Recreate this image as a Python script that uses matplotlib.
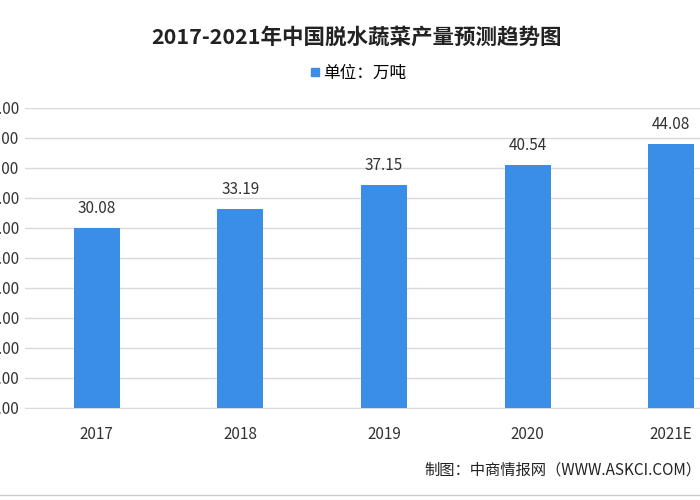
import matplotlib.pyplot as plt
from matplotlib.lines import Line2D

plt.rcParams['font.family'] = ['Noto Sans CJK SC', 'DejaVu Sans']

years = ['2017', '2018', '2019', '2020', '2021E']
output = [30.08, 33.19, 37.15, 40.54, 44.08]
yticks = [0, 5, 10, 15, 20, 25, 30, 35, 40, 45, 50]

bar_color = '#3a8ee6'

fig = plt.figure(figsize=(7, 5), dpi=100)
# axes reaches past the right edge, like the cropped original
ax = fig.add_axes([25 / 700, 92 / 500, 718 / 700, 300 / 500])

x = range(len(years))
ax.bar(x, output, width=0.32, color=bar_color, zorder=3)
for i, v in enumerate(output):
    ax.text(i, v + 1.8, '%.2f' % v, ha='center', va='bottom', fontsize=11, color='#333333')

ax.set_xlim(-0.5, len(years) - 0.5)
ax.set_ylim(0, 50)
ax.set_yticks(yticks)
ax.set_yticklabels(['%.2f' % t for t in yticks], fontsize=11, color='#333333')
ax.set_xticks(list(x))
ax.set_xticklabels(years, fontsize=11, color='#333333')
ax.tick_params(length=0, pad=13)
ax.tick_params(axis='y', pad=4)
ax.grid(axis='y', color='#d9d9d9', linewidth=1, zorder=0)
for s in ['top', 'right', 'left']:
    ax.spines[s].set_visible(False)
ax.spines['bottom'].set_color('#d9d9d9')

fig.text(0.509, 0.925, '2017-2021年中国脱水蔬菜产量预测趋势图', ha='center', va='center',
         fontsize=15.5, fontweight='bold', color='#222222')
handle = Line2D([], [], marker='s', linestyle='none', color=bar_color, markersize=6)
fig.legend([handle], ['单位：万吨'], loc='center', bbox_to_anchor=(0.51, 0.853),
           frameon=False, fontsize=12, handletextpad=0.1, handlelength=0.8)

fig.text(424 / 700, 0.06, '制图：中商情报网（WWW.ASKCI.COM）', ha='left', va='center',
         fontsize=11, color='#222222')
fig.add_artist(Line2D([0, 1], [0.01, 0.01], color='#cccccc', linewidth=1))

fig.savefig('out.png', dpi=100)
